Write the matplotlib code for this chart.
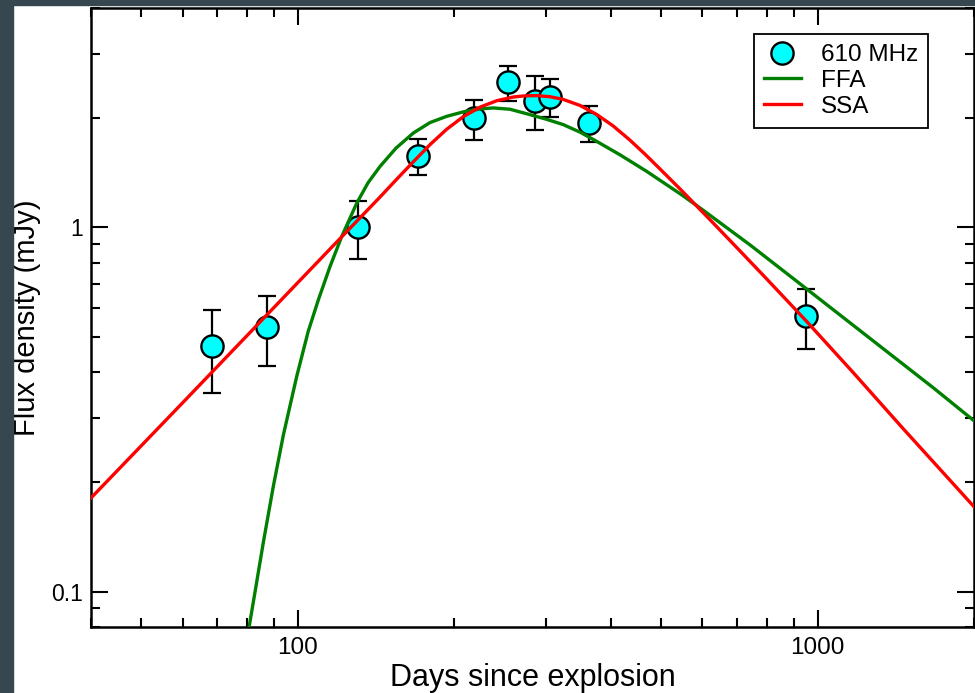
import matplotlib
matplotlib.use("Agg")
import matplotlib.pyplot as plt
from matplotlib.patches import Rectangle
from matplotlib.ticker import FuncFormatter, LogLocator, NullFormatter

# 610 MHz measurements (days since explosion, flux density in mJy)
days = [68.3, 87.1, 130.6, 170.2, 217.9, 253.8, 286.3, 305.0, 363.9, 948.3]
flux = [0.472, 0.532, 1.00, 1.57, 1.99, 2.50, 2.22, 2.28, 1.93, 0.570]
flux_err = [0.12, 0.115, 0.18, 0.18, 0.25, 0.28, 0.375, 0.27, 0.22, 0.107]

# model curves
ffa_days = [80.6, 83.12, 85.88, 89.76, 93.83, 99.56, 104.67, 109.55, 115.4,
            121.5, 129.88, 136.55, 143.99, 154.5, 166.9, 179.6, 193.4, 207.95,
            224.2, 237.8, 256.0, 279.7, 300.3, 324.2, 349.1, 375.8, 416.8,
            469.1, 543.5, 593.8, 741.2, 924.7, 1242.3, 1668.7, 2000]
ffa_flux = [0.0801, 0.1039, 0.1372, 0.1954, 0.2698, 0.3910, 0.5171, 0.6332,
            0.7825, 0.9447, 1.1667, 1.3266, 1.4705, 1.650, 1.8161, 1.9389,
            2.0171, 2.0740, 2.1135, 2.1269, 2.1095, 2.0388, 1.9817, 1.9140,
            1.8252, 1.7219, 1.5815, 1.4245, 1.2375, 1.1312, 0.8953, 0.7005,
            0.5043, 0.3631, 0.2946]

ssa_days = [40.0, 60.26, 96.65, 120.58, 143.99, 154.5, 166.9, 179.6, 193.4,
            207.95, 224.2, 241.7, 259.8, 273.6, 288.2, 305.7, 324.2, 349.1,
            375.8, 404.1, 435.6, 465.5, 497.4, 543.5, 586.0, 629.9, 709.0,
            797.9, 952.4, 1171.0, 1460.6, 2000]
ssa_flux = [0.1808, 0.3319, 0.6704, 0.9317, 1.2118, 1.3494, 1.5145, 1.6866,
            1.8592, 2.0107, 2.1379, 2.2275, 2.2787, 2.2961, 2.2990, 2.2831,
            2.2444, 2.1609, 2.0414, 1.8996, 1.7350, 1.5885, 1.4471, 1.2757,
            1.1427, 1.0276, 0.8619, 0.7223, 0.5523, 0.3995, 0.2804, 0.1711]

plt.rcParams.update({
    "font.family": ["Liberation Sans", "DejaVu Sans"],
    "axes.linewidth": 1.8,
})

W, H = 975, 693
fig = plt.figure(figsize=(W / 100, H / 100), dpi=100)
ax = fig.add_axes([91 / W, 66 / H, 883 / W, 619 / H])

# dark frame strips seen at the left and top of the screenshot
fig.add_artist(Rectangle((0, 0), 13 / W, 1, transform=fig.transFigure,
                         color="#37474f", zorder=10))
fig.add_artist(Rectangle((0, 1 - 5 / H), 1, 5 / H, transform=fig.transFigure,
                         color="#37474f", zorder=10))

ax.errorbar(days, flux, yerr=flux_err, fmt="none", ecolor="black",
            elinewidth=1.6, capsize=6.5, capthick=1.6, zorder=2)
ax.plot(days, flux, "o", ms=16, mfc="#00ffff", mec="black", mew=1.7,
        label="610 MHz", zorder=3)
ax.plot(ffa_days, ffa_flux, color="#008000", lw=2.4, label="FFA", zorder=4)
ax.plot(ssa_days, ssa_flux, color="#ff0000", lw=2.4, label="SSA", zorder=5)

ax.set_xscale("log")
ax.set_yscale("log")
ax.set_xlim(40, 2000)
ax.set_ylim(0.08, 4)

fmt = FuncFormatter(lambda v, p: f"{v:g}")
for axis in (ax.xaxis, ax.yaxis):
    axis.set_major_locator(LogLocator(base=10))
    axis.set_minor_locator(LogLocator(base=10, subs=range(2, 10)))
    axis.set_major_formatter(fmt)
    axis.set_minor_formatter(NullFormatter())

ax.tick_params(which="both", direction="in", top=True, right=True, width=1.5)
ax.tick_params(which="major", length=12.5)
ax.tick_params(which="minor", length=6.5)
ax.tick_params(axis="x", labelsize=17.5, pad=7)
ax.tick_params(axis="y", labelsize=16.5, pad=6)

ax.set_xlabel("Days since explosion", fontsize=22, labelpad=3)
ax.set_ylabel("Flux density (mJy)", fontsize=21, labelpad=7)

leg = ax.legend(loc="upper right", bbox_to_anchor=(0.948, 0.958),
                borderaxespad=0, fancybox=False, edgecolor="black",
                fontsize=17.5, handlelength=1.52, handletextpad=0.82,
                labelspacing=0.15, borderpad=0.42, framealpha=1)
leg.get_frame().set_linewidth(1.3)

fig.savefig("out.png", dpi=100)
